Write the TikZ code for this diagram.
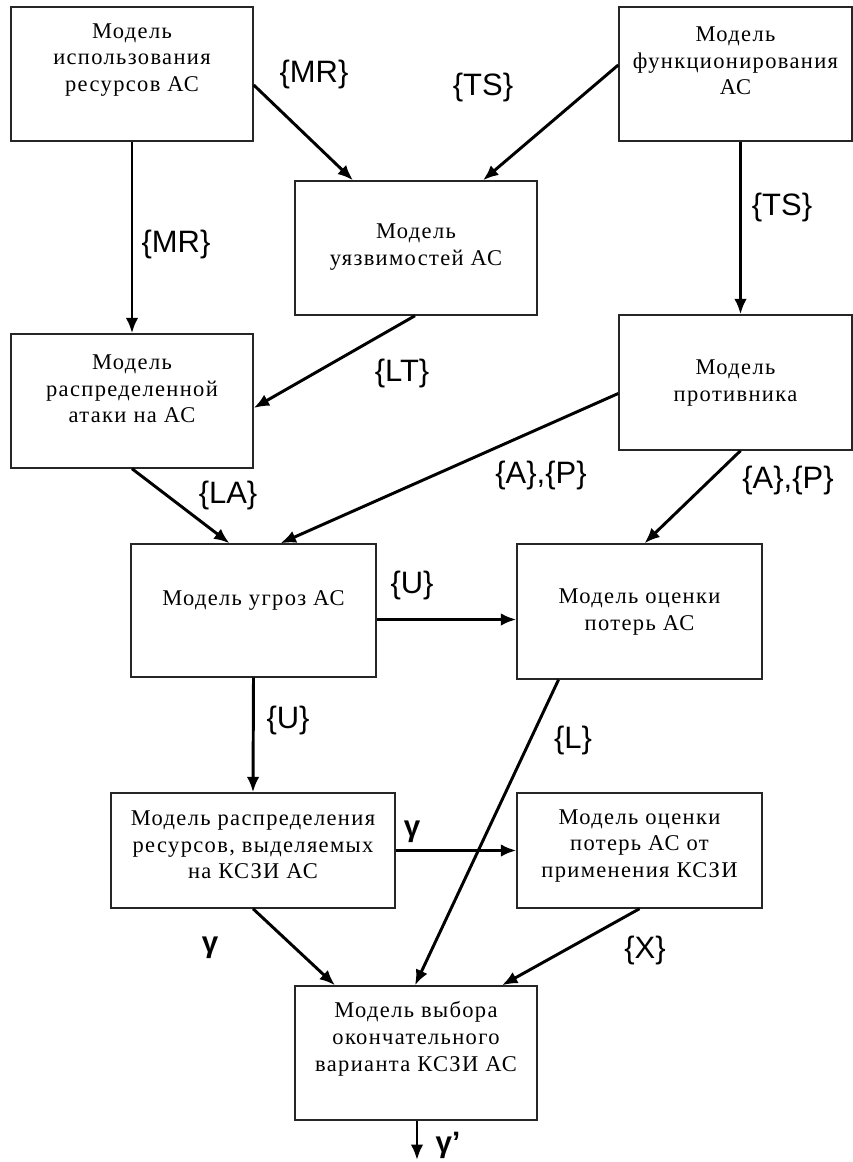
\documentclass[tikz,border=0pt]{standalone}
\usepackage{fontspec}
\setmainfont{Liberation Serif}
\newfontfamily\boxfont[LetterSpace=6]{Liberation Serif}
\newfontfamily\lblfont{Liberation Sans}
\usetikzlibrary{arrows.meta,calc}

\tikzset{
  modelbox/.style={draw=black!85, line width=1pt, rectangle, inner sep=0pt},
  boxtext/.style={align=center, inner sep=0pt, font=\boxfont\fontsize{16}{19}\selectfont},
  flow/.style={line width=2.1pt, -{Latex[length=11pt,width=9pt]}},
  flowlbl/.style={inner sep=0pt, font=\lblfont\fontsize{22}{26}\selectfont},
  gammalbl/.style={inner sep=0pt, font=\lblfont\bfseries\fontsize{21}{25}\selectfont},
}

\begin{document}
\begin{tikzpicture}[x=0.025cm, y=-0.025cm]
        % canvas, measured in pixels of the original scheme
        \fill[white] (0,0) rectangle (853,1162);
        \useasboundingbox (0,0) rectangle (853,1162);

        % Boxes of the models
        \node[modelbox, minimum width=6.05cm, minimum height=3.35cm] (use) at (132,74) {};
        \node[modelbox, minimum width=5.825cm, minimum height=3.35cm] (func) at (735.5,74) {};
        \node[modelbox, minimum width=6.05cm, minimum height=3.35cm] (vuln) at (416,248) {};
        \node[modelbox, minimum width=6.05cm, minimum height=3.35cm] (atk) at (132,401) {};
        \node[modelbox, minimum width=5.825cm, minimum height=3.375cm] (adv) at (735.5,382.5) {};
        \node[modelbox, minimum width=6.125cm, minimum height=3.325cm] (thr) at (253.5,610.5) {};
        \node[modelbox, minimum width=6.125cm, minimum height=3.375cm] (loss) at (639.5,611.5) {};
        \node[modelbox, minimum width=7.1cm, minimum height=2.875cm] (dist) at (253,850.5) {};
        \node[modelbox, minimum width=6.125cm, minimum height=2.875cm] (lossk) at (639.5,850.5) {};
        \node[modelbox, minimum width=6.05cm, minimum height=3.35cm] (choice) at (416,1053) {};

        % Texts of the boxes (set a little above the middle, as in the scheme)
        \node[boxtext] (useT) at (132,60) {Модель\\использования\\ресурсов АС};
        \node[boxtext] (funcT) at (735.5,61) {Модель\\функционирования\\АС};
        \node[boxtext] (vulnT) at (416,247) {Модель\\уязвимостей АС};
        \node[boxtext] (atkT) at (132,389) {Модель\\распределенной\\атаки на АС};
        \node[boxtext] (advT) at (735.5,383) {Модель\\противника};
        \node[boxtext] (thrT) at (253.5,600) {Модель угроз АС};
        \node[boxtext] (lossT) at (639.5,612) {Модель оценки\\потерь АС};
        \node[boxtext] (distT) at (253,845) {Модель распределения\\ресурсов, выделяемых\\на КСЗИ АС};
        \node[boxtext] (losskT) at (639.5,846) {Модель оценки\\потерь АС от\\применения КСЗИ};
        \node[boxtext] (choiceT) at (416,1039) {Модель выбора\\окончательного\\варианта КСЗИ АС};

        % Output of the last model
        \coordinate (out) at (417,1160);

        % Flows between the models
        \draw[flow] (use.south) -- (atk.north);
        \draw[flow] ($(use.east)+(0,11)$) -- ($(vuln.north)+(-63,0)$);
        \draw[flow] ($(func.west)+(0,-9)$) -- ($(vuln.north)+(67,0)$);
        \draw[flow] ($(func.south)+(5,0)$) -- ($(adv.north)+(5,0)$);
        \draw[flow] ($(vuln.south)+(-1,0)$) -- ($(atk.east)+(0,7)$);
        \draw[flow] (atk.south) -- ($(thr.north)+(-24,0)$);
        \draw[flow] ($(adv.west)+(0,11)$) -- ($(thr.north)+(27,0)$);
        \draw[flow] ($(adv.south)+(5,0)$) -- ($(loss.north)+(5,0)$);
        \draw[flow] ($(thr.east)+(0,9)$) -- ($(loss.west)+(0,8)$);
        \draw[flow] (thr.south) -- (dist.north);
        \draw[flow] ($(loss.south)+(-81,0)$) -- ($(choice.north)+(-1,0)$);
        \draw[flow] (dist.east) -- (lossk.west);
        \draw[flow] (dist.south) -- ($(choice.north)+(-81,0)$);
        \draw[flow] (lossk.south) -- ($(choice.north)+(86,0)$);
        \draw[flow] ($(choice.south)+(1,0)$) -- (out);

        % Labels of the flows
        \node[flowlbl] (mrA) at (176,245) {\{MR\}};
        \node[flowlbl] (mrB) at (314,75) {\{MR\}};
        \node[flowlbl] (tsA) at (483,88) {\{TS\}};
        \node[flowlbl] (tsB) at (782,208) {\{TS\}};
        \node[flowlbl] (lt) at (402,373) {\{LT\}};
        \node[flowlbl] (la) at (228,495) {\{LA\}};
        \node[flowlbl] (apA) at (541,475) {\{A\},\{P\}};
        \node[flowlbl] (apB) at (788,480) {\{A\},\{P\}};
        \node[flowlbl] (uA) at (412,585) {\{U\}};
        \node[flowlbl] (uB) at (288,720) {\{U\}};
        \node[flowlbl] (lL) at (573,740) {\{L\}};
        \node[flowlbl] (xX) at (645,950) {\{X\}};
        \node[gammalbl] (gA) at (412,832) {γ};
        \node[gammalbl] (gB) at (210,948) {γ};
        \node[gammalbl] (gC) at (448,1145) {γ’};
\end{tikzpicture}
\end{document}
